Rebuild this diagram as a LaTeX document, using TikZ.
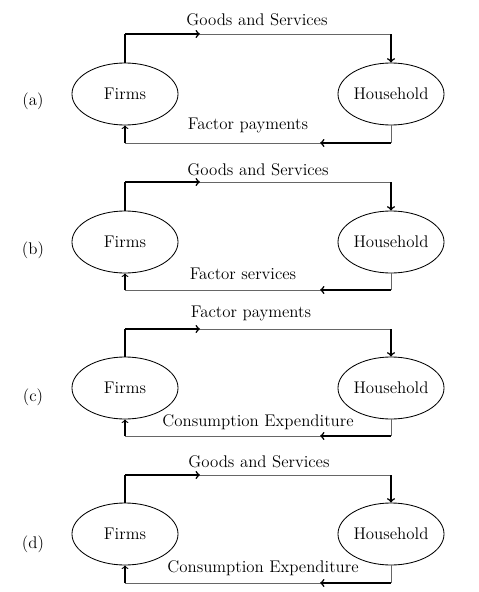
\documentclass[tikz,border=0pt]{standalone}
\usepackage{amsmath}
\usepackage{tikz}
\usetikzlibrary{shapes.geometric}

\tikzset{
  agent/.style={draw, ellipse, line width=0.6pt, minimum width=2.65cm, minimum height=1.55cm, inner sep=0pt},
  flowbold/.style={line width=1.1pt, black},
  flowlite/.style={line width=0.7pt, black!60},
  flowplain/.style={line width=0.8pt, black},
}

\begin{document}
\begin{tikzpicture}[x=0.025cm, y=-0.025cm, font=\fontsize{12}{14}\selectfont]
    \useasboundingbox (0,0) rectangle (479,592);

    % (a)
    \node[agent] (fa) at (125,94) {Firms};
    \node[agent] (ha) at (391,94) {Household};
    \node (la) at (33,101) {(a)};
    \node (ga) at (257,20) {Goods and Services};
    \node (pa) at (248,125) {Factor payments};
    \coordinate (ta) at (200,34);
    \coordinate (ba) at (320,143);
    \draw[flowplain] (fa.north) -- (fa.north |- ta);
    \draw[flowbold, ->] (fa.north |- ta) -- (ta);
    \draw[flowlite] (ta) -- (ta -| ha);
    \draw[flowbold, ->] (ta -| ha) -- (ha.north);
    \draw[flowlite] (ha.south) -- (ha.south |- ba);
    \draw[flowbold, ->] (ha.south |- ba) -- (ba);
    \draw[flowlite] (ba) -- (fa.south |- ba);
    \draw[flowplain, ->] (fa.south |- ba) -- (fa.south);

    % (b)
    \node[agent] (fb) at (125,242) {Firms};
    \node[agent] (hb) at (391,242) {Household};
    \node (lb) at (33,250) {(b)};
    \node (gb) at (258,170) {Goods and Services};
    \node (sb) at (243,274) {Factor services};
    \coordinate (tb) at (200,182);
    \coordinate (bb) at (320,290);
    \draw[flowplain] (fb.north) -- (fb.north |- tb);
    \draw[flowbold, ->] (fb.north |- tb) -- (tb);
    \draw[flowlite] (tb) -- (tb -| hb);
    \draw[flowbold, ->] (tb -| hb) -- (hb.north);
    \draw[flowlite] (hb.south) -- (hb.south |- bb);
    \draw[flowbold, ->] (hb.south |- bb) -- (bb);
    \draw[flowlite] (bb) -- (fb.south |- bb);
    \draw[flowplain, ->] (fb.south |- bb) -- (fb.south);

    % (c)
    \node[agent] (fc) at (125,388) {Firms};
    \node[agent] (hc) at (391,388) {Household};
    \node (lc) at (33,397) {(c)};
    \node (pc) at (251,313) {Factor payments};
    \node (ec) at (258,422) {Consumption Expenditure};
    \coordinate (tc) at (200,329);
    \coordinate (bc) at (320,436);
    \draw[flowplain] (fc.north) -- (fc.north |- tc);
    \draw[flowbold, ->] (fc.north |- tc) -- (tc);
    \draw[flowlite] (tc) -- (tc -| hc);
    \draw[flowbold, ->] (tc -| hc) -- (hc.north);
    \draw[flowlite] (hc.south) -- (hc.south |- bc);
    \draw[flowbold, ->] (hc.south |- bc) -- (bc);
    \draw[flowlite] (bc) -- (fc.south |- bc);
    \draw[flowplain, ->] (fc.south |- bc) -- (fc.south);

    % (d)
    \node[agent] (fd) at (125,534) {Firms};
    \node[agent] (hd) at (391,534) {Household};
    \node (ld) at (33,544) {(d)};
    \node (gd) at (259,462) {Goods and Services};
    \node (ed) at (263,568) {Consumption Expenditure};
    \coordinate (td) at (200,475);
    \coordinate (bd) at (320,583);
    \draw[flowplain] (fd.north) -- (fd.north |- td);
    \draw[flowbold, ->] (fd.north |- td) -- (td);
    \draw[flowlite] (td) -- (td -| hd);
    \draw[flowbold, ->] (td -| hd) -- (hd.north);
    \draw[flowlite] (hd.south) -- (hd.south |- bd);
    \draw[flowbold, ->] (hd.south |- bd) -- (bd);
    \draw[flowlite] (bd) -- (fd.south |- bd);
    \draw[flowplain, ->] (fd.south |- bd) -- (fd.south);
  \end{tikzpicture}
\end{document}
